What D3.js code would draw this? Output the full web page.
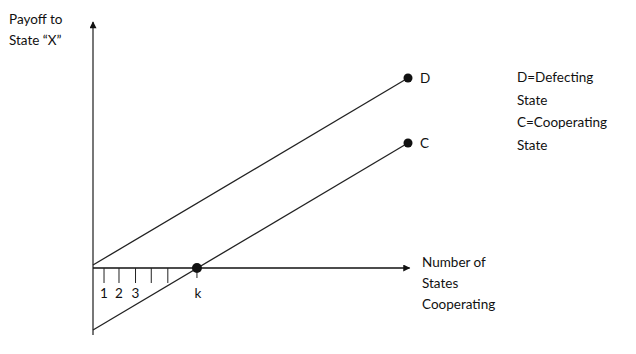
<!DOCTYPE html>
<html>
<head>
<meta charset="utf-8">
<script src="https://cdn.jsdelivr.net/npm/d3@7"></script>
<style>
  body { margin: 0; background: #fff; }
  svg text { font-family: Lato, "Open Sans", sans-serif; font-size: 13.5px; fill: #111; }
</style>
</head>
<body>
<svg width="636" height="354"></svg>
<script>
// payoff lines: x = number of states cooperating, y = payoff
var lineNames = ["D", "C"];
var lineX = [0, 20];
var defectY = [0.3, 19];
var coopY = [-6.2, 12.5];

// tick marks on the horizontal axis, and their labels
var tickValues = [0.7, 1.65, 2.7, 3.7, 4.75];
var tickLabels = ["1", "2", "3", "", ""];
var kValue = 6.6;

var legendLines = ["D=Defecting", "State", "C=Cooperating", "State"];

var svg = d3.select("svg");

var x = d3.scaleLinear().domain([0, 20]).range([93, 408]);
var y = d3.scaleLinear().domain([-7, 25]).range([338, 18]);

var defs = svg.append("defs");
defs.append("marker")
  .attr("id", "arrow")
  .attr("viewBox", "0 0 10 10")
  .attr("refX", 9)
  .attr("refY", 5)
  .attr("markerWidth", 9)
  .attr("markerHeight", 7)
  .attr("markerUnits", "userSpaceOnUse")
  .attr("orient", "auto")
  .append("path")
  .attr("d", "M0,0L10,5L0,10z")
  .attr("fill", "#111");

// vertical axis
svg.append("line")
  .attr("x1", x(0)).attr("y1", y(-6.7))
  .attr("x2", x(0)).attr("y2", y(24.6))
  .attr("stroke", "#555")
  .attr("stroke-width", 1.6)
  .attr("marker-end", "url(#arrow)");

// horizontal axis
svg.append("line")
  .attr("x1", x(0)).attr("y1", y(0))
  .attr("x2", x(20.1)).attr("y2", y(0))
  .attr("stroke", "#111")
  .attr("stroke-width", 1.3)
  .attr("marker-end", "url(#arrow)");

// ticks under the axis
svg.append("g").selectAll("line")
  .data(tickValues)
  .enter()
  .append("line")
  .attr("x1", function (d) { return x(d); })
  .attr("x2", function (d) { return x(d); })
  .attr("y1", y(0))
  .attr("y2", y(0) + 15)
  .attr("stroke", "#222")
  .attr("stroke-width", 1);

svg.append("g").selectAll("text")
  .data(tickValues)
  .enter()
  .append("text")
  .attr("x", function (d) { return x(d); })
  .attr("y", y(0) + 30)
  .attr("text-anchor", "middle")
  .text(function (d, i) { return tickLabels[i]; });

// the two payoff lines
var series = [defectY, coopY];
svg.append("g").selectAll("line")
  .data(series)
  .enter()
  .append("line")
  .attr("x1", x(lineX[0]))
  .attr("y1", function (d) { return y(d[0]); })
  .attr("x2", x(lineX[1]))
  .attr("y2", function (d) { return y(d[1]); })
  .attr("stroke", "#222")
  .attr("stroke-width", 1.3);

// end points with their letters
svg.append("g").selectAll("circle")
  .data(series)
  .enter()
  .append("circle")
  .attr("cx", x(lineX[1]))
  .attr("cy", function (d) { return y(d[1]); })
  .attr("r", 4.5)
  .attr("fill", "#111");

svg.append("g").selectAll("text")
  .data(series)
  .enter()
  .append("text")
  .attr("x", x(lineX[1]) + 12)
  .attr("y", function (d) { return y(d[1]) + 5; })
  .text(function (d, i) { return lineNames[i]; });

// k: where cooperating payoff crosses zero
svg.append("circle")
  .attr("cx", x(kValue))
  .attr("cy", y(0))
  .attr("r", 5)
  .attr("fill", "#111");
svg.append("line")
  .attr("x1", x(kValue)).attr("x2", x(kValue))
  .attr("y1", y(0) + 4).attr("y2", y(0) + 10)
  .attr("stroke", "#222");
svg.append("text")
  .attr("x", x(kValue) + 1)
  .attr("y", y(0) + 30)
  .attr("text-anchor", "middle")
  .text("k");

// axis titles
var yTitle = svg.append("text").attr("x", 9).attr("y", 24);
yTitle.append("tspan").attr("x", 9).text("Payoff to");
yTitle.append("tspan").attr("x", 9).attr("dy", 21).text("State \u201cX\u201d");

var xTitle = svg.append("text").attr("x", 422).attr("y", 267);
["Number of", "States", "Cooperating"].forEach(function (s, i) {
  xTitle.append("tspan").attr("x", 422).attr("dy", i ? 21 : 0).text(s);
});

// legend
svg.append("g").selectAll("text")
  .data(legendLines)
  .enter()
  .append("text")
  .attr("x", 517)
  .attr("y", function (d, i) { return 82 + i * 22.5; })
  .text(function (d) { return d; });
</script>
</body>
</html>
